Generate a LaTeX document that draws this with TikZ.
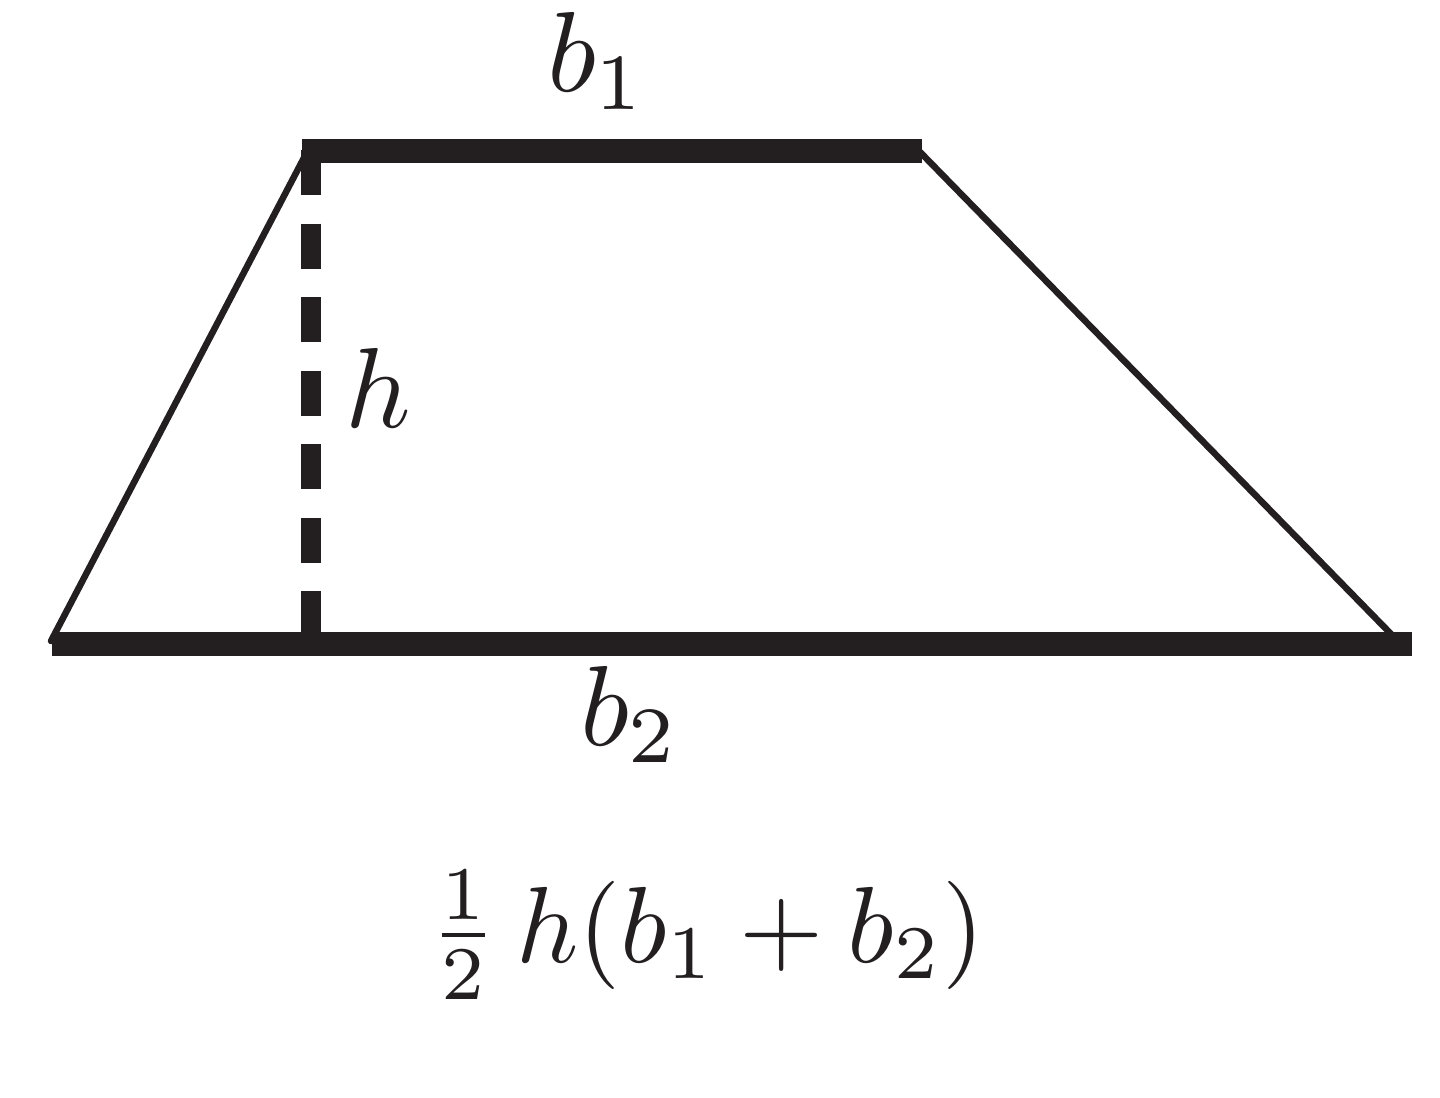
\documentclass[tikz,border=0pt]{standalone}
\begin{document}
\begin{tikzpicture}[x=0.01cm,y=-0.01cm,
  base/.style={line width=0.235cm,line cap=butt,draw=inkc},
  side/.style={line width=0.065cm,line cap=round,draw=inkc},
  height/.style={line width=0.2cm,dash pattern=on 0.45cm off 0.285cm,draw=inkc},
  lbl/.style={inner sep=0pt,anchor=base,scale=3.24,text=inkc}]
\definecolor{inkc}{HTML}{231F20}
\useasboundingbox (0,0) rectangle (1440,1097);
\coordinate (BL) at (52,644);
\coordinate (BR) at (1412,644);
\coordinate (TL) at (302,151);
\coordinate (TR) at (922,151);
\coordinate (SL1) at (51,641);
\coordinate (SL2) at (307,152);
\coordinate (SR1) at (920,152);
\coordinate (SR2) at (1392,635);
\coordinate (H1) at (311,150);
\coordinate (H2) at (311,640);
\draw[side] (SL1) -- (SL2);
\draw[side] (SR1) -- (SR2);
\draw[height] (H1) -- (H2);
\draw[base] (TL) -- (TR);
\draw[base] (BL) -- (BR);
\node[lbl] (b1) at (597,92) {$b_1$};
\node[lbl] (h) at (378,427) {$h$};
\node[lbl] (b2) at (630,745) {$b_2$};
\node[lbl,scale=0.95] (area) at (707,962) {$\frac{1}{2}\,h(b_1+b_2)$};
\end{tikzpicture}
\end{document}
